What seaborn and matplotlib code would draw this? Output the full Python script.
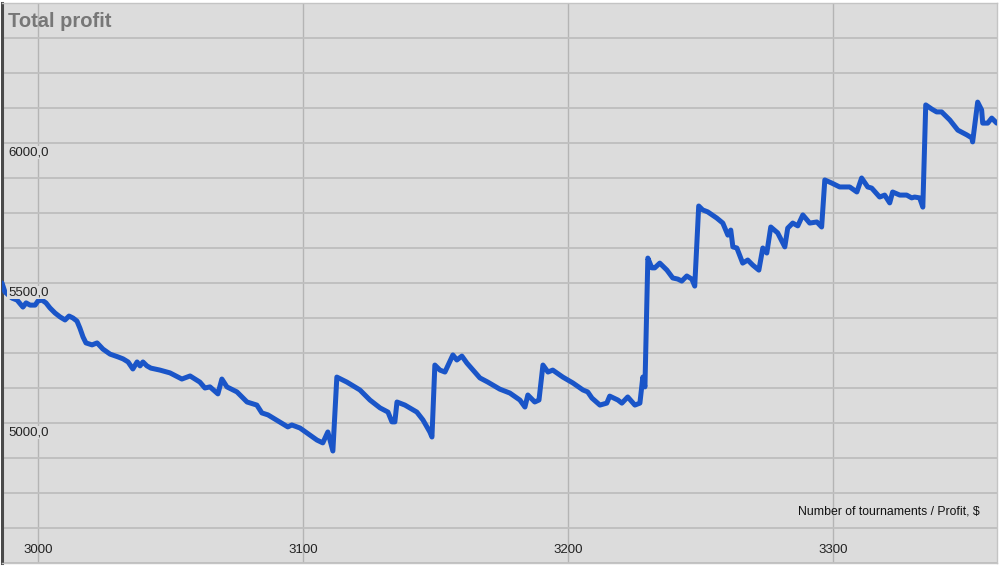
import matplotlib
matplotlib.use('Agg')
import matplotlib.pyplot as plt
import matplotlib.ticker as mticker
import matplotlib.transforms as mtrans
import seaborn as sns
import pandas as pd

sns.set_theme(style='whitegrid')
plt.rcParams['font.family'] = ['Liberation Sans', 'DejaVu Sans']

# number of tournaments played
tournaments = [
    2986.4, 2987.5, 2990.2, 2992.1, 2994.3, 2995.5, 2997.0, 2998.9, 3000.0, 3001.5,
    3003.0, 3004.5, 3006.4, 3008.3, 3010.2, 3011.7, 3013.2, 3014.7, 3015.8, 3017.0,
    3018.1, 3020.4, 3022.3, 3024.5, 3027.2, 3030.2, 3032.1, 3034.0, 3035.8, 3037.4,
    3038.5, 3039.6, 3041.1, 3042.6, 3046.0, 3049.8, 3054.3, 3057.4, 3061.1, 3063.0,
    3064.9, 3067.9, 3069.4, 3071.3, 3075.1, 3078.9, 3082.6, 3084.5, 3086.8, 3089.4,
    3092.5, 3094.3, 3095.8, 3098.9, 3102.6, 3105.3, 3107.5, 3109.4, 3111.3, 3112.8,
    3116.6, 3121.5, 3125.3, 3129.1, 3132.1, 3133.6, 3134.7, 3135.5, 3138.5, 3143.0,
    3145.3, 3147.9, 3148.7, 3149.8, 3151.7, 3153.6, 3156.6, 3158.1, 3160.0, 3161.9,
    3166.8, 3169.8, 3174.3, 3178.1, 3181.9, 3183.8, 3184.9, 3187.5, 3189.1, 3190.6,
    3192.5, 3194.3, 3198.1, 3201.9, 3205.7, 3207.5, 3209.1, 3212.1, 3214.7, 3215.8,
    3218.9, 3220.4, 3222.6, 3225.3, 3227.2, 3228.3, 3229.1, 3230.2, 3231.7, 3232.8,
    3234.7, 3237.4, 3239.6, 3241.5, 3243.0, 3244.9, 3246.8, 3247.9, 3249.4, 3250.9,
    3252.8, 3256.2, 3258.5, 3260.4, 3261.5, 3262.3, 3263.8, 3266.0, 3267.9, 3269.8,
    3272.1, 3273.6, 3275.1, 3276.6, 3279.2, 3281.9, 3283.0, 3284.9, 3286.8, 3288.7,
    3291.3, 3294.0, 3295.8, 3297.0, 3299.6, 3302.6, 3306.4, 3309.1, 3310.9, 3313.2,
    3314.7, 3317.7, 3319.6, 3321.5, 3322.6, 3325.3, 3327.9, 3329.8, 3330.9, 3332.8,
    3334.0, 3335.1, 3337.4, 3339.2, 3341.1, 3344.2, 3347.2, 3350.6, 3352.5, 3352.8,
    3354.7, 3356.2, 3356.6, 3358.5, 3360.0, 3361.9,
]

# cumulative profit, $
profit = [
    5500, 5468, 5446, 5439, 5414, 5429, 5421, 5421, 5436, 5439,
    5429, 5411, 5393, 5379, 5368, 5382, 5375, 5364, 5339, 5307,
    5286, 5279, 5286, 5264, 5246, 5236, 5229, 5218, 5193, 5218,
    5204, 5218, 5204, 5196, 5189, 5179, 5157, 5168, 5146, 5125,
    5129, 5104, 5157, 5129, 5111, 5075, 5064, 5036, 5029, 5014,
    4996, 4986, 4993, 4982, 4957, 4939, 4929, 4968, 4900, 5164,
    5146, 5118, 5082, 5054, 5039, 5004, 5004, 5075, 5064, 5039,
    5011, 4968, 4950, 5207, 5189, 5182, 5243, 5225, 5239, 5214,
    5161, 5146, 5121, 5107, 5082, 5057, 5100, 5075, 5082, 5207,
    5182, 5189, 5164, 5143, 5118, 5111, 5089, 5064, 5071, 5096,
    5082, 5071, 5093, 5064, 5071, 5164, 5129, 5589, 5554, 5554,
    5571, 5546, 5518, 5514, 5507, 5525, 5514, 5489, 5775, 5761,
    5754, 5732, 5714, 5671, 5689, 5629, 5625, 5571, 5582, 5564,
    5546, 5625, 5607, 5700, 5679, 5629, 5696, 5714, 5704, 5743,
    5714, 5718, 5700, 5868, 5857, 5843, 5843, 5825, 5875, 5843,
    5839, 5807, 5814, 5786, 5825, 5814, 5814, 5804, 5807, 5804,
    5771, 6136, 6121, 6111, 6111, 6082, 6046, 6029, 6018, 6004,
    6146, 6118, 6071, 6071, 6089, 6071,
]

y_labels = [5000, 5500, 6000]
x_labels = [3000, 3100, 3200, 3300]

df = pd.DataFrame({'tournaments': tournaments, 'profit': profit})

bg = '#dcdcdc'
fig = plt.figure(figsize=(10, 5.66), dpi=100)
fig.patch.set_facecolor('white')
ax = fig.add_axes([0.002, 0.0053, 0.995, 0.9894])
ax.set_facecolor(bg)

sns.lineplot(data=df, x='tournaments', y='profit', ax=ax, color='#1a55c8',
             linewidth=3.6, zorder=3, solid_joinstyle='round', solid_capstyle='round')

ax.set_xlim(2986.4, 3362)
ax.set_ylim(4500, 6500)
ax.xaxis.set_major_locator(mticker.MultipleLocator(100))
ax.yaxis.set_major_locator(mticker.MultipleLocator(125))
ax.grid(axis='y', color='#bebebe', linewidth=1.3)
ax.grid(axis='x', color='#b4b4b4', linewidth=1.0)
ax.tick_params(left=False, bottom=False, labelleft=False, labelbottom=False)
ax.set_xlabel('')
ax.set_ylabel('')

for side in ['top', 'right', 'bottom']:
    ax.spines[side].set_color('#c4c4c4')
    ax.spines[side].set_linewidth(1)
ax.spines['left'].set_color('#4a4a4a')
ax.spines['left'].set_linewidth(2.2)

# y labels inside the plot, just under their grid line
ytrans = mtrans.blended_transform_factory(ax.transAxes, ax.transData)
for v in y_labels:
    ax.text(0.006, v - 12, f'{v},0', transform=ytrans, ha='left', va='top',
            fontsize=9.5, color='#222222', zorder=4,
            bbox=dict(facecolor=bg, edgecolor='none', pad=0.5))

# x labels inside the bottom band
xtrans = mtrans.blended_transform_factory(ax.transData, ax.transAxes)
for v in x_labels:
    ax.text(v, 0.023, str(v), transform=xtrans, ha='center', va='center',
            fontsize=9.5, color='#222222', zorder=4)

ax.text(0.983, 0.092, 'Number of tournaments / Profit, $', transform=ax.transAxes,
        ha='right', va='center', fontsize=8.8, color='#111111', zorder=4)
ax.text(0.006, 0.967, 'Total profit', transform=ax.transAxes, ha='left', va='center',
        fontsize=14.5, fontweight='bold', color='#777777', zorder=4)

fig.savefig('out.png', dpi=100, facecolor='white')
